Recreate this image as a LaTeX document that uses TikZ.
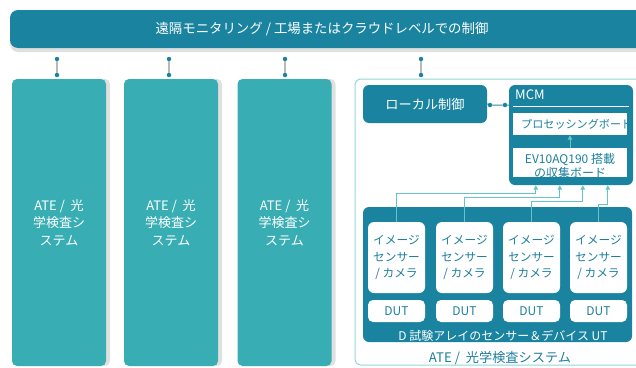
\documentclass[tikz,border=0pt]{standalone}
\usepackage{fontspec}
\setmainfont{Noto Sans CJK JP}
\usetikzlibrary{shadows,calc,arrows.meta}
\definecolor{dark}{RGB}{26,132,160}
\definecolor{colteal}{RGB}{56,174,180}
\definecolor{lightline}{RGB}{100,196,200}
\definecolor{border}{RGB}{150,214,216}
\definecolor{txtteal}{RGB}{30,128,158}
\definecolor{dotline}{RGB}{185,185,185}
\begin{document}
\begin{tikzpicture}[x=1pt,y=-1pt,
  box/.style={rectangle, inner sep=0pt, rounded corners=6pt},
  darkbox/.style={box, fill=dark},
  colbox/.style={box, rounded corners=5pt, fill=colteal, minimum width=94pt, minimum height=287pt,
     text=white, align=center, font=\fontsize{13}{17.5}\selectfont,
     drop shadow={shadow xshift=4pt, shadow yshift=0pt, opacity=0.12, fill=black}},
  whitebox/.style={box, fill=white, text=txtteal, align=center},
  sensor/.style={whitebox, rounded corners=6pt, minimum width=57pt, minimum height=71pt,
     font=\fontsize{11.7}{16.5}\selectfont},
  dutbox/.style={whitebox, rounded corners=5pt, minimum width=57pt, minimum height=22pt,
     font=\fontsize{12}{13}\selectfont},
  dotnode/.style={circle, fill=dark, inner sep=0pt, minimum size=4.5pt},
  dotlink/.style={draw=dotline, line width=1.2pt},
  conn/.style={draw=lightline, line width=1pt, -{Triangle[length=4.5pt,width=4.5pt]}},
]
\useasboundingbox (0,0) rectangle (636,367);

% top bar
\node[darkbox, rounded corners=8pt, minimum width=640pt, minimum height=38pt,
  drop shadow={shadow xshift=0pt, shadow yshift=-4pt, opacity=0.12, fill=black}] (top) at (330,29) {};
\node[text=white, font=\fontsize{13.4}{15}\selectfont] (toptxt) at (322,29) {遠隔モニタリング / 工場またはクラウドレベルでの制御};

% columns
\node[colbox] (c1) at (59,222.5) {ATE /\ \ 光\\学検査シ\\ステム};
\node[colbox] (c2) at (171,222.5) {ATE /\ \ 光\\学検査シ\\ステム};
\node[colbox] (c3) at (284.5,222.5) {ATE /\ \ 光\\学検査シ\\ステム};

% outer container
\node[box, draw=border, line width=1pt, fill=white, minimum width=300pt, minimum height=286pt] (outer) at (505,222) {};
\node[text=txtteal, font=\fontsize{13.2}{15}\selectfont] (outerlbl) at (500,358) {ATE /\ \ 光学検査システム};

% connector dots from top bar
\foreach \i/\x in {1/57,2/169,3/285,4/421}{
  \node[dotnode] (ta\i) at (\x,59) {};
  \node[dotnode] (tb\i) at (\x,75) {};
  \draw[dotlink] (ta\i) -- (tb\i);
}

% local control
\node[darkbox, minimum width=124pt, minimum height=38pt, text=white,
  font=\fontsize{13.2}{15}\selectfont] (local) at (425,104) {ローカル制御};

% MCM
\node[darkbox, minimum width=124pt, minimum height=100pt] (mcm) at (571,135) {};
\node[text=white, anchor=west, inner sep=0pt, font=\fontsize{13}{15}\selectfont] (mcmlbl) at (515,95) {MCM};
\coordinate (ul1) at (513,106.5);
\coordinate (ul2) at (629,106.5);
\draw[white, line width=0.7pt] (ul1) -- (ul2);
\node[whitebox, rounded corners=0pt, minimum width=114pt, minimum height=22pt] (proc) at (570,124) {};
\begin{scope}
  \clip (513,113) rectangle (627,135);
  \node[text=txtteal, anchor=west, inner sep=0pt, font=\fontsize{11.1}{12}\selectfont] (proctxt) at (521,124) {プロセッシングボード};
\end{scope}
\node[whitebox, rounded corners=0pt, minimum width=114pt, minimum height=29pt] (coll) at (570,162.5) {};
\begin{scope}
  \clip (513,148) rectangle (627,177);
  \node[text=txtteal, align=center, font=\fontsize{12}{13.5}\selectfont] (colltxt) at (570,166) {EV10AQ190 搭載\\の収集ボード};
\end{scope}
\draw[conn] (coll.north) -- (proc.south);

% link local - mcm
\node[dotnode] (la) at (490,105) {};
\node[dotnode] (lb) at (505,105) {};
\draw[draw=dark!70!gray, line width=1pt] (local.east) -- (la) -- (lb) -- (mcm.west |- lb);

% sensor array
\node[darkbox, minimum width=269pt, minimum height=135pt] (array) at (497.5,274.5) {};
\node[text=white, font=\fontsize{12}{13}\selectfont] (arraylbl) at (503,336) {D 試験アレイのセンサー＆デバイス UT};

\foreach \i/\x in {1/396.5,2/464.5,3/531.5,4/598.5}{
  \node[sensor] (s\i) at (\x,257.5) {イメージ\\センサー\\/\ カメラ};
  \node[dutbox] (d\i) at (\x,311) {DUT};
}

% connectors sensors -> MCM
\draw[conn] (s1.north) |- ($(mcm.south west)+(27,8)$) -- ($(mcm.south west)+(27,0)$);
\draw[conn] (s2.north) |- ($(mcm.south west)+(51,12)$) -- ($(mcm.south west)+(51,0)$);
\draw[conn] (s3.north) |- ($(mcm.south west)+(74,16)$) -- ($(mcm.south west)+(74,0)$);
\draw[conn] (s4.north) |- ($(mcm.south west)+(99,19)$) -- ($(mcm.south west)+(99,0)$);
\end{tikzpicture}
\end{document}
